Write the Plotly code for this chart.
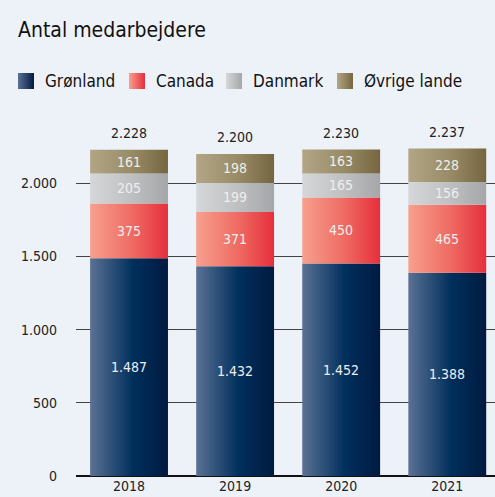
import plotly.graph_objects as go

# data
years = ["2018", "2019", "2020", "2021"]
gronland = [1487, 1432, 1452, 1388]
canada = [375, 371, 450, 465]
danmark = [205, 199, 165, 156]
ovrige = [161, 198, 163, 228]
totals = [2228, 2200, 2230, 2237]

series = [
    ("Grønland", gronland, ["#5b7194", "#002f5c", "#001a40"]),
    ("Canada", canada, ["#f7a08e", "#ee6a62", "#e62f3c"]),
    ("Danmark", danmark, ["#d6d7d9", "#bebfc1", "#a5a6a8"]),
    ("Øvrige lande", ovrige, ["#b3a687", "#978a65", "#756640"]),
]

FONT = "DejaVu Sans Condensed, sans-serif"
BG = "#edf1f8"
W, H = 495, 497
half = 0.367  # half bar width in category units


def fmt(n):
    return f"{n:,}".replace(",", ".")


def grad(cols):
    return dict(type="horizontal",
                colorscale=[[0, cols[0]], [0.55, cols[1]], [1, cols[2]]])


fig = go.Figure()

# stacked bars drawn as gradient-filled boxes
bottoms = [0] * len(years)
for name, vals, cols in series:
    for i, v in enumerate(vals):
        y0, y1 = bottoms[i], bottoms[i] + v
        fig.add_trace(go.Scatter(
            x=[i - half, i + half, i + half, i - half, i - half],
            y=[y0, y0, y1, y1, y0],
            mode="lines", line=dict(width=0),
            fill="toself", fillgradient=grad(cols),
            name=name, showlegend=False, hoverinfo="skip",
        ))
        fig.add_annotation(x=i, y=(y0 + y1) / 2, text=fmt(v), showarrow=False,
                           font=dict(family=FONT, size=14, color="#eeeeee"))
        bottoms[i] = y1

for i, t in enumerate(totals):
    fig.add_annotation(x=i, y=t, yshift=17, text=fmt(t), showarrow=False,
                       font=dict(family=FONT, size=14, color="#222222"))

# custom legend with gradient squares (x2/y2 are pixel-like axes)
leg_x = [18, 129, 226, 337]
for (name, vals, cols), lx in zip(series, leg_x):
    fig.add_trace(go.Scatter(
        x=[lx, lx + 16, lx + 16, lx, lx], y=[73, 73, 89, 89, 73],
        xaxis="x2", yaxis="y2", mode="lines", line=dict(width=0),
        fill="toself", fillgradient=dict(type="horizontal",
                                         colorscale=[[0, cols[0]], [1, cols[2]]]),
        showlegend=False, hoverinfo="skip",
    ))
    fig.add_annotation(x=lx + 25, y=81, xref="x2", yref="y2", text=name,
                       xanchor="left", showarrow=False,
                       font=dict(family=FONT, size=17, color="#111111"))

fig.update_layout(
    width=W, height=H,
    paper_bgcolor=BG, plot_bgcolor=BG,
    margin=dict(l=0, r=0, t=0, b=21, autoexpand=False),
    title=dict(text="Antal medarbejdere", xref="container", yref="container",
               x=18 / W, xanchor="left", y=1 - 30 / H, yanchor="middle",
               font=dict(family=FONT, size=21, color="#111111")),
    showlegend=False,
    font=dict(family=FONT, size=14, color="#222222"),
    xaxis=dict(domain=[76 / W, 1], range=[-0.5, 3.45],
               tickvals=list(range(len(years))), ticktext=years,
               showgrid=False, zeroline=False, showline=False, ticks="",
               automargin=False, fixedrange=True,
               tickfont=dict(family=FONT, size=14, color="#222222")),
    yaxis=dict(domain=[0, 366 / 476], range=[0, 2500],
               tickvals=[0, 500, 1000, 1500, 2000],
               ticktext=["0", "500", "1.000", "1.500", "2.000"],
               showgrid=True, gridcolor="#444444", gridwidth=1.2,
               zeroline=True, zerolinecolor="#111111", zerolinewidth=1.5,
               showline=False, ticks="", ticklabelstandoff=18,
               automargin=False, fixedrange=True,
               tickfont=dict(family=FONT, size=14, color="#222222")),
    xaxis2=dict(domain=[0, 1], range=[0, W], visible=False, fixedrange=True),
    yaxis2=dict(domain=[376 / 476, 416 / 476], range=[100, 60], visible=False,
                fixedrange=True),
)

# drop the default page margin so the figure sits flush in the window
fig.write_html("out.html", config={"displayModeBar": False},
               post_script="document.body.style.margin='0';"
                           "document.body.style.background='%s';" % BG)
